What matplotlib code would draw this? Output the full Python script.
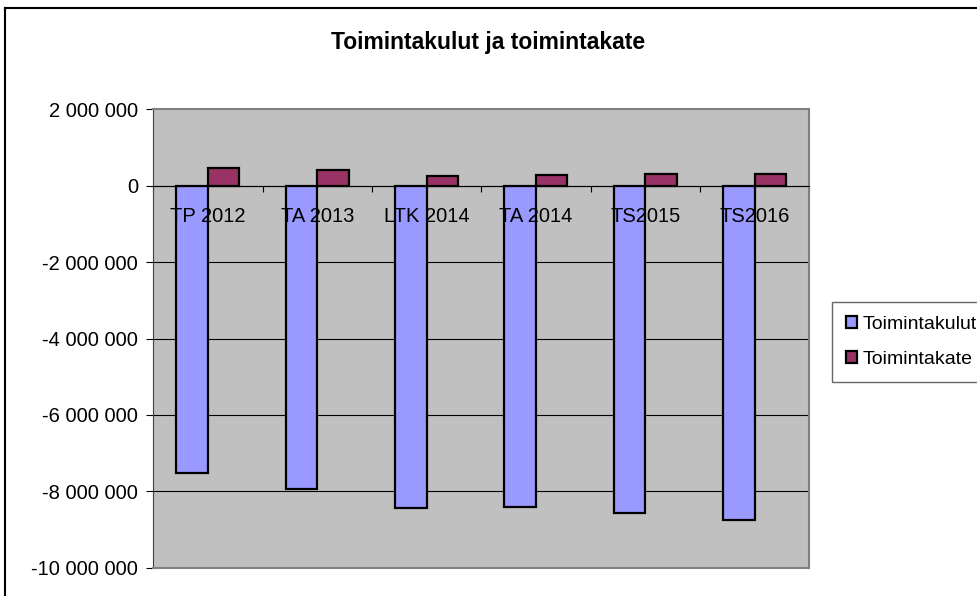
import matplotlib
matplotlib.use("Agg")
import matplotlib.pyplot as plt
import numpy as np
from matplotlib.patches import Patch
from matplotlib.lines import Line2D
from matplotlib.ticker import FuncFormatter, FixedLocator

plt.rcParams['font.family'] = ['Liberation Sans', 'DejaVu Sans']

categories = ["TP 2012", "TA 2013", "LTK 2014", "TA 2014", "TS2015", "TS2016"]
toimintakulut = [-7530000, -7930000, -8450000, -8400000, -8560000, -8750000]
toimintakate = [455000, 410000, 245000, 290000, 310000, 315000]
series_names = ["Toimintakulut", "Toimintakate"]
colors = ["#9999FF", "#993366"]
yticks = np.arange(-10000000, 2000001, 2000000)

fig = plt.figure(figsize=(9.77, 5.96), dpi=100)
ax = fig.add_axes([153.3/977, 1-567.7/596, 656/977, 458.4/596])
ax.set_facecolor("#C0C0C0")

x = np.arange(len(categories))
w = 0.288
ax.bar(x - w/2, toimintakulut, w, color=colors[0], edgecolor="black", linewidth=1.6, zorder=2)
ax.bar(x + w/2, toimintakate, w, color=colors[1], edgecolor="black", linewidth=1.6, zorder=2)

ax.set_xlim(-0.5, len(categories) - 0.5)
ax.set_ylim(yticks[0], yticks[-1])
ax.set_yticks(yticks)
ax.yaxis.set_major_formatter(FuncFormatter(lambda v, p: f"{int(v):,}".replace(",", " ")))
for yv in yticks[1:-1]:
    ax.axhline(yv, color="black", linewidth=0.8, zorder=1)
ax.tick_params(axis="y", direction="out", length=5, width=0.8, pad=6, labelsize=14.5)

# x axis at zero, ticks between categories
ax.spines["bottom"].set_position(("data", 0))
ax.spines["bottom"].set_color("black")
ax.spines["bottom"].set_zorder(3)
ax.xaxis.set_major_locator(FixedLocator(np.arange(len(categories) + 1) - 0.5))
ax.xaxis.set_major_formatter(FuncFormatter(lambda v, p: ""))
ax.tick_params(axis="x", direction="out", length=4, width=0.8)
for i, c in enumerate(categories):
    ax.annotate(c, xy=(i, 0), xytext=(0, -22), textcoords="offset points",
                ha="center", va="center", fontsize=14.5, zorder=5)

ax.spines["left"].set_color("#404040")
for s in ["top", "right"]:
    ax.spines[s].set_color("#808080")
    ax.spines[s].set_linewidth(1.5)
ax.plot([0, 1], [0, 0], transform=ax.transAxes, color="#808080", linewidth=1.5, clip_on=False, zorder=3)

fig.suptitle("Toimintakulut ja toimintakate", x=0.5, y=1-43/596, va="center",
             fontsize=16.5, fontweight="bold")

# figure border
fig.add_artist(Line2D([5/977, 1], [1-8/596, 1-8/596], color="black", linewidth=1.5))
fig.add_artist(Line2D([5/977, 5/977], [0, 1-8/596], color="black", linewidth=1.5))

handles = [Patch(facecolor=colors[0], edgecolor="black", linewidth=1.6),
           Patch(facecolor=colors[1], edgecolor="black", linewidth=1.6)]
leg = fig.legend(handles, series_names, loc="upper left",
                 bbox_to_anchor=(832/977, 1-302/596), bbox_transform=fig.transFigure,
                 fontsize=14, handlelength=0.6, handleheight=0.6, handletextpad=0.3,
                 labelspacing=0.95, borderpad=0.7, borderaxespad=0, fancybox=False,
                 frameon=True)
leg.get_frame().set_edgecolor("#404040")
leg.get_frame().set_linewidth(1.0)

fig.savefig("out.png", dpi=100)
